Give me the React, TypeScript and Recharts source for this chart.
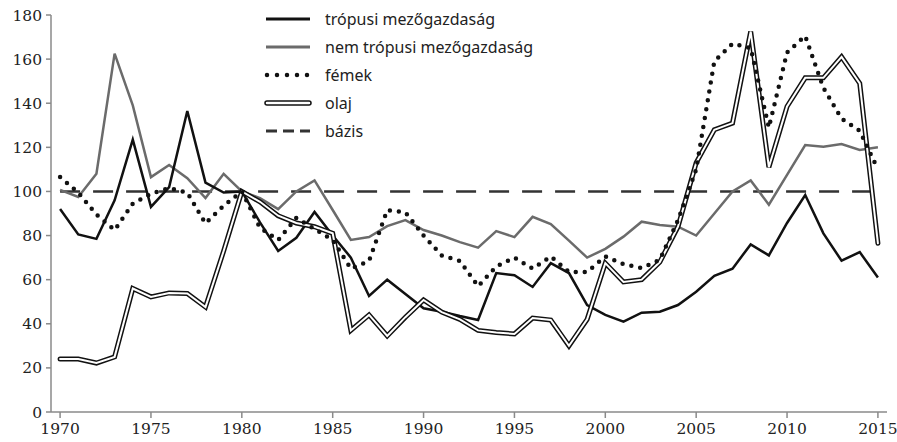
import { LineChart, Line, XAxis, YAxis } from 'recharts'

const years = [
  1970, 1971, 1972, 1973, 1974, 1975, 1976, 1977, 1978, 1979,
  1980, 1981, 1982, 1983, 1984, 1985, 1986, 1987, 1988, 1989,
  1990, 1991, 1992, 1993, 1994, 1995, 1996, 1997, 1998, 1999,
  2000, 2001, 2002, 2003, 2004, 2005, 2006, 2007, 2008, 2009,
  2010, 2011, 2012, 2013, 2014, 2015,
]

const tropical = [
  92, 80.5, 78.5, 96, 123.5, 93, 102, 136.5, 104, 99.5,
  100, 86, 73, 79, 90.7, 80, 70, 52.6, 60, 53.5,
  47, 45.5, 43.5, 41.7, 63, 62, 56.7, 67.5, 63, 48.5,
  44, 41, 45, 45.5, 48.5, 54.5, 61.7, 65, 76, 71,
  85.7, 98.4, 81, 68.6, 72.5, 61,
]

const nonTropical = [
  100.7, 97.5, 108, 162.5, 139, 106.5, 112, 106, 97, 108,
  100, 97, 92, 100, 105, 91.6, 78, 79.3, 84.3, 87,
  82.5, 80, 77, 74.5, 82, 79.3, 88.5, 85.2, 77.7, 70,
  74, 79.5, 86.3, 84.8, 84, 80, 90, 100, 105, 94,
  107.5, 121, 120.3, 121.5, 118.8, 120,
]

const metals = [
  106.5, 99.5, 89.5, 82.5, 94.5, 99, 101.5, 99.5, 85.5, 93.5,
  100, 83.5, 78, 88, 83, 78, 65, 68.5, 91.5, 90.5,
  80, 71, 68.5, 57, 66, 70, 65, 70.5, 63.5, 63.5,
  70.5, 67, 65.3, 69, 87, 110, 159, 167, 165, 129,
  163, 170.5, 147, 133, 127.5, 110,
]

const oil = [
  24, 24, 22.2, 25, 56, 52.2, 54, 53.7, 47.6, 73,
  100, 95.3, 89, 85.7, 84, 81, 37, 44, 34.5, 43,
  50.8, 45.3, 42, 37, 36, 35.4, 42.6, 41.7, 30, 42,
  67.5, 59, 60, 68, 84, 113, 128, 131, 172.5, 111,
  138.5, 151.5, 151.5, 161, 149, 76.5,
]

const baseLevel = 100

const xTicks = [1970, 1975, 1980, 1985, 1990, 1995, 2000, 2005, 2010, 2015]
const yTicks = [0, 20, 40, 60, 80, 100, 120, 140, 160, 180]

const legendItems = [
  { name: 'trópusi mezőgazdaság', kind: 'tropical' },
  { name: 'nem trópusi mezőgazdaság', kind: 'nonTropical' },
  { name: 'fémek', kind: 'metals' },
  { name: 'olaj', kind: 'oil' },
  { name: 'bázis', kind: 'base' },
]

const data = years.map((year, i) => ({
  year,
  tropical: tropical[i],
  nonTropical: nonTropical[i],
  metals: metals[i],
  oil: oil[i],
  base: baseLevel,
}))

const tickStyle = { fill: '#222', fontSize: 15.5, fontFamily: 'DejaVu Serif' }
const axisStroke = '#8a8a8a'

function Swatch({ kind }: { kind: string }) {
  return (
    <svg width={48} height={12} style={{ display: 'block' }}>
      {kind === 'tropical' && <line x1={2} y1={6} x2={46} y2={6} stroke="#111" strokeWidth={3} />}
      {kind === 'nonTropical' && <line x1={2} y1={6} x2={46} y2={6} stroke="#6b6b6b" strokeWidth={3} />}
      {kind === 'metals' && (
        <line x1={3} y1={6} x2={46} y2={6} stroke="#111" strokeWidth={4.5} strokeDasharray="0 10" strokeLinecap="round" />
      )}
      {kind === 'oil' && (
        <>
          <line x1={3} y1={6} x2={45} y2={6} stroke="#111" strokeWidth={5.5} strokeLinecap="round" />
          <line x1={3} y1={6} x2={45} y2={6} stroke="#fff" strokeWidth={2.5} strokeLinecap="round" />
        </>
      )}
      {kind === 'base' && (
        <line x1={2} y1={6} x2={46} y2={6} stroke="#333" strokeWidth={3} strokeDasharray="11 6" />
      )}
    </svg>
  )
}

function ChartLegend() {
  return (
    <div
      style={{
        position: 'absolute',
        left: 264,
        top: 5,
        fontFamily: 'Noto Sans',
        fontSize: 16,
        color: '#222',
        lineHeight: '28px',
      }}
    >
      {legendItems.map((item) => (
        <div key={item.kind} style={{ display: 'flex', alignItems: 'center', height: 28 }}>
          <Swatch kind={item.kind} />
          <span style={{ marginLeft: 13, whiteSpace: 'nowrap' }}>{item.name}</span>
        </div>
      ))}
    </div>
  )
}

export default function App() {
  return (
    <div style={{ position: 'absolute', left: 0, top: 0, width: 897, height: 442, background: '#fff' }}>
      <LineChart width={897} height={442} data={data} margin={{ top: 15, right: 10, left: 0, bottom: 0 }}>
        <XAxis
          dataKey="year"
          type="number"
          domain={[1969.5, 2015.5]}
          ticks={xTicks}
          interval={0}
          height={30}
          tick={tickStyle}
          stroke={axisStroke}
          strokeWidth={1.5}
          tickSize={6}
          tickMargin={5}
        />
        <YAxis
          domain={[0, 180]}
          ticks={yTicks}
          interval={0}
          width={51}
          tick={tickStyle}
          stroke={axisStroke}
          strokeWidth={1.5}
          tickSize={5}
          tickMargin={4}
        />
        <Line
          dataKey="base"
          stroke="#333"
          strokeWidth={2.5}
          strokeDasharray="20 13"
          dot={false}
          activeDot={false}
          isAnimationActive={false}
        />
        <Line
          dataKey="nonTropical"
          stroke="#6b6b6b"
          strokeWidth={2.5}
          dot={false}
          activeDot={false}
          isAnimationActive={false}
        />
        <Line
          dataKey="tropical"
          stroke="#111"
          strokeWidth={2.5}
          dot={false}
          activeDot={false}
          isAnimationActive={false}
        />
        <Line
          dataKey="oil"
          stroke="#111"
          strokeWidth={5}
          strokeLinejoin="miter"
          strokeLinecap="round"
          dot={false}
          activeDot={false}
          isAnimationActive={false}
        />
        <Line
          dataKey="oil"
          stroke="#fff"
          strokeWidth={2}
          strokeLinejoin="miter"
          strokeLinecap="round"
          dot={false}
          activeDot={false}
          isAnimationActive={false}
        />
        <Line
          dataKey="metals"
          stroke="#111"
          strokeWidth={4.5}
          strokeDasharray="0 9"
          strokeLinecap="round"
          dot={false}
          activeDot={false}
          isAnimationActive={false}
        />
      </LineChart>
      <ChartLegend />
    </div>
  )
}
